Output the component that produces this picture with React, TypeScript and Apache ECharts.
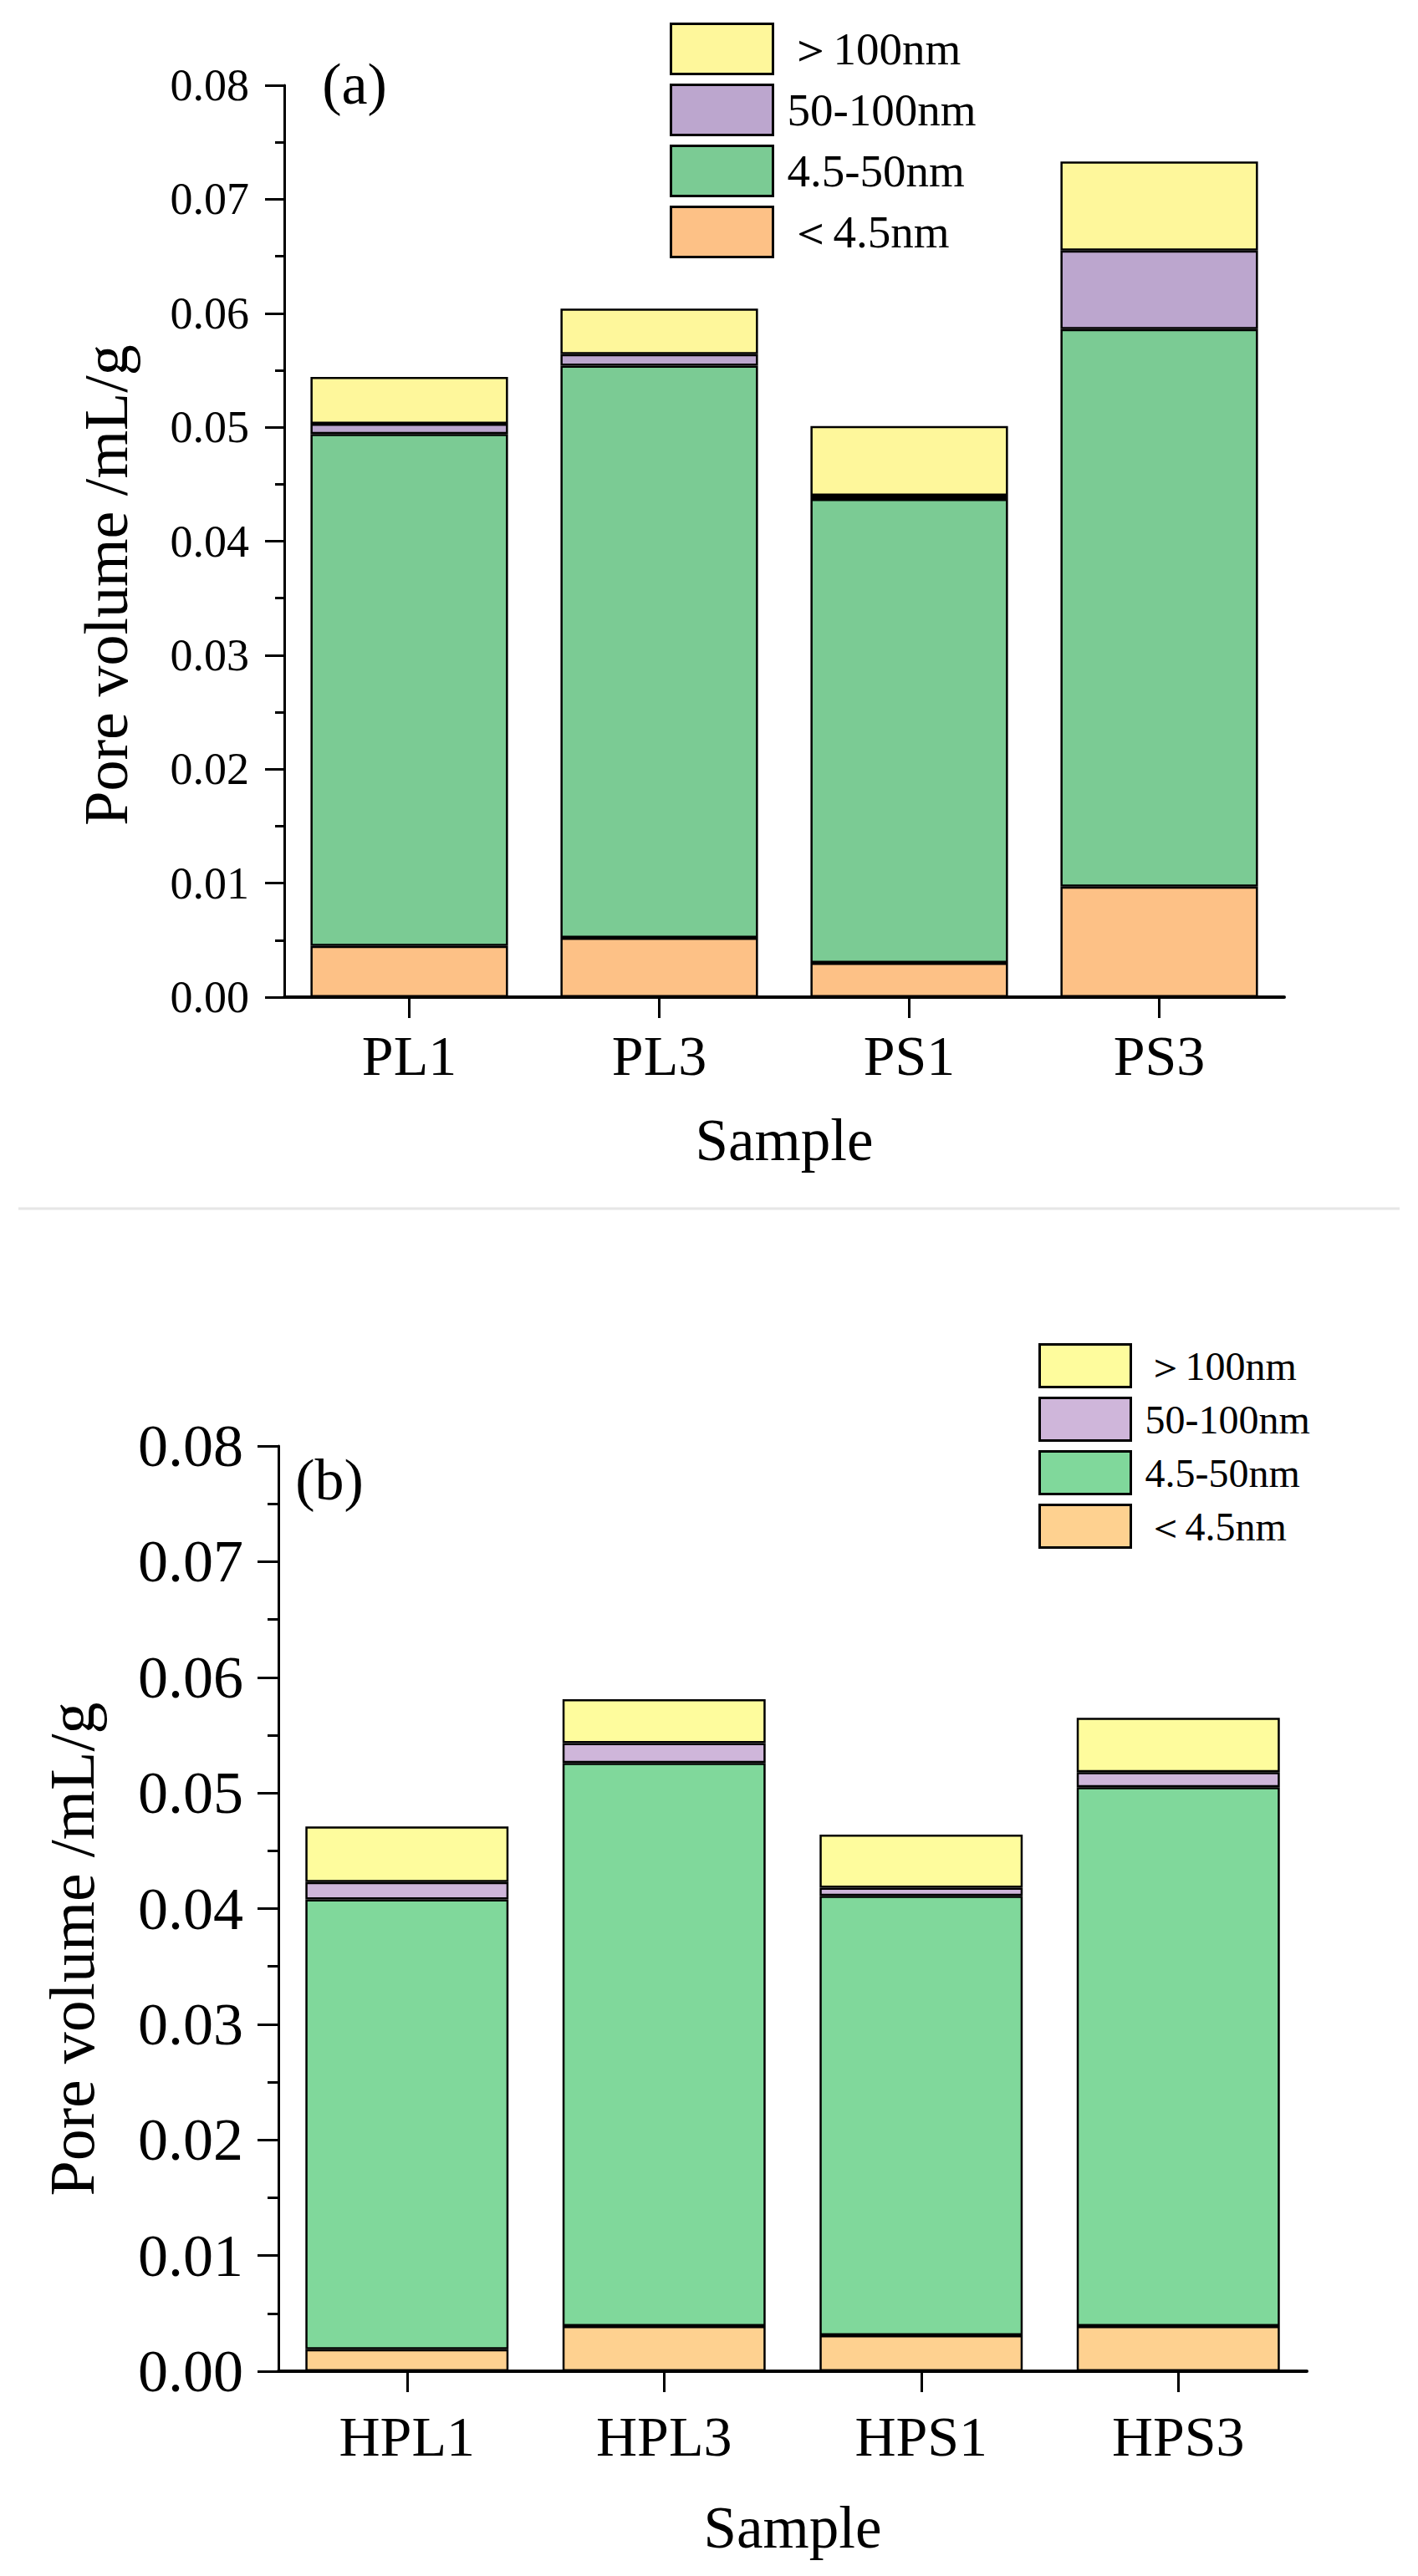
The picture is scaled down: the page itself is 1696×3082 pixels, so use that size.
import React, { useEffect, useRef } from 'react';
import * as echarts from 'echarts';

const FONT = "'Liberation Serif', 'Times New Roman', serif";

// pore size classes, bottom of the stack first
const poreClasses = ['＜4.5nm', '4.5-50nm', '50-100nm', '＞100nm'];

// (a) untreated samples
const samplesA = ['PL1', 'PL3', 'PS1', 'PS3'];
const below45A = [0.0045, 0.0052, 0.003, 0.0097];
const meso45to50A = [0.0449, 0.0502, 0.0407, 0.0489];
const meso50to100A = [0.0009, 0.001, 0.0003, 0.0069];
const above100A = [0.0041, 0.004, 0.0061, 0.0078];

// (b) treated samples
const samplesB = ['HPL1', 'HPL3', 'HPS1', 'HPS3'];
const below45B = [0.0019, 0.0039, 0.0031, 0.0039];
const meso45to50B = [0.0389, 0.0487, 0.038, 0.0466];
const meso50to100B = [0.0015, 0.0017, 0.0007, 0.0013];
const above100B = [0.0048, 0.0038, 0.0046, 0.0047];

const yMin = 0;
const yMax = 0.08;
const yStep = 0.01;

const colorsA = ['#FDC186', '#7BCB94', '#BCA6CE', '#FEF79B'];
const colorsB = ['#FED190', '#80D89B', '#CFB6DA', '#FEFC9D'];

export default function App() {
  const ref = useRef<HTMLDivElement>(null);

  useEffect(() => {
    if (!ref.current) return;
    const chart = echarts.init(ref.current, null, { renderer: 'svg' });

    const seriesFor = (idx: number, values: number[][], colors: string[]) =>
      values.map((data, i) => ({
        name: poreClasses[i],
        type: 'bar',
        stack: 'pv' + idx,
        xAxisIndex: idx,
        yAxisIndex: idx,
        data,
        barCategoryGap: '21%',
        itemStyle: { color: colors[i], borderColor: '#000', borderWidth: 2.5 },
      }));

    const xAxisFor = (gridIndex: number, data: string[], margin: number, nameGap: number) => ({
      type: 'category',
      gridIndex,
      data,
      axisLine: { show: true, lineStyle: { color: '#000', width: 4 } },
      axisTick: { show: true, alignWithLabel: true, length: 25, lineStyle: { color: '#000', width: 3 } },
      axisLabel: { fontSize: 68, fontFamily: FONT, color: '#000', margin },
      name: 'Sample',
      nameLocation: 'middle',
      nameGap,
      nameTextStyle: { fontSize: 71, fontFamily: FONT, color: '#000' },
    });

    const yAxisFor = (gridIndex: number, fontSize: number, tickLen: number, minorLen: number) => ({
      type: 'value',
      gridIndex,
      min: yMin,
      max: yMax,
      interval: yStep,
      axisLine: { show: true, lineStyle: { color: '#000', width: 3 } },
      axisTick: { show: true, length: tickLen, lineStyle: { color: '#000', width: 3 } },
      minorTick: { show: true, splitNumber: 2, length: minorLen, lineStyle: { color: '#000', width: 3 } },
      splitLine: { show: false },
      axisLabel: {
        fontSize,
        fontFamily: FONT,
        color: '#000',
        margin: 42,
        formatter: (v: number) => v.toFixed(2),
      },
    });

    const legendFor = (colors: string[], left: number, top: number, w: number, h: number, gap: number, fontSize: number) => ({
      orient: 'vertical',
      left,
      top,
      itemWidth: w,
      itemHeight: h,
      itemGap: gap,
      icon: 'rect',
      selectedMode: false,
      textStyle: { fontSize, fontFamily: FONT, color: '#000', padding: [0, 0, 0, 12] },
      data: [3, 2, 1, 0].map((i) => ({
        name: poreClasses[i],
        itemStyle: { color: colors[i], borderColor: '#000', borderWidth: 3 },
      })),
    });

    const titleStyle = (text: string, fontSize: number) => ({
      text,
      fontSize,
      fontFamily: FONT,
      fill: '#000',
      align: 'center',
      verticalAlign: 'middle',
    });

    chart.setOption({
      animation: false,
      backgroundColor: '#fff',
      grid: [
        { left: 340, top: 102, width: 1196, height: 1091 },
        { left: 333, top: 1730, width: 1230, height: 1107 },
      ],
      xAxis: [xAxisFor(0, samplesA, 36, 135), xAxisFor(1, samplesB, 44, 151)],
      yAxis: [yAxisFor(0, 54, 23, 11), yAxisFor(1, 72, 25, 13)],
      legend: [
        legendFor(colorsA, 796, 22, 122, 60, 10, 55),
        legendFor(colorsB, 1237, 1602, 109, 51, 10, 48),
      ],
      series: [
        ...seriesFor(0, [below45A, meso45to50A, meso50to100A, above100A], colorsA),
        ...seriesFor(1, [below45B, meso45to50B, meso50to100B, above100B], colorsB),
      ],
      graphic: [
        {
          type: 'line',
          shape: { x1: 22, y1: 1446, x2: 1674, y2: 1446 },
          style: { stroke: '#e6e6e6', lineWidth: 3 },
        },
        { type: 'text', x: 424, y: 100, style: titleStyle('(a)', 70) },
        { type: 'text', x: 394, y: 1770, style: titleStyle('(b)', 70) },
        { type: 'text', x: 127, y: 700, rotation: Math.PI / 2, style: titleStyle('Pore volume /mL/g', 74) },
        { type: 'text', x: 86, y: 2332, rotation: Math.PI / 2, style: titleStyle('Pore volume /mL/g', 76) },
      ],
    });

    return () => chart.dispose();
  }, []);

  return <div ref={ref} style={{ position: 'absolute', left: 0, top: 0, width: 1696, height: 3082 }} />;
}
